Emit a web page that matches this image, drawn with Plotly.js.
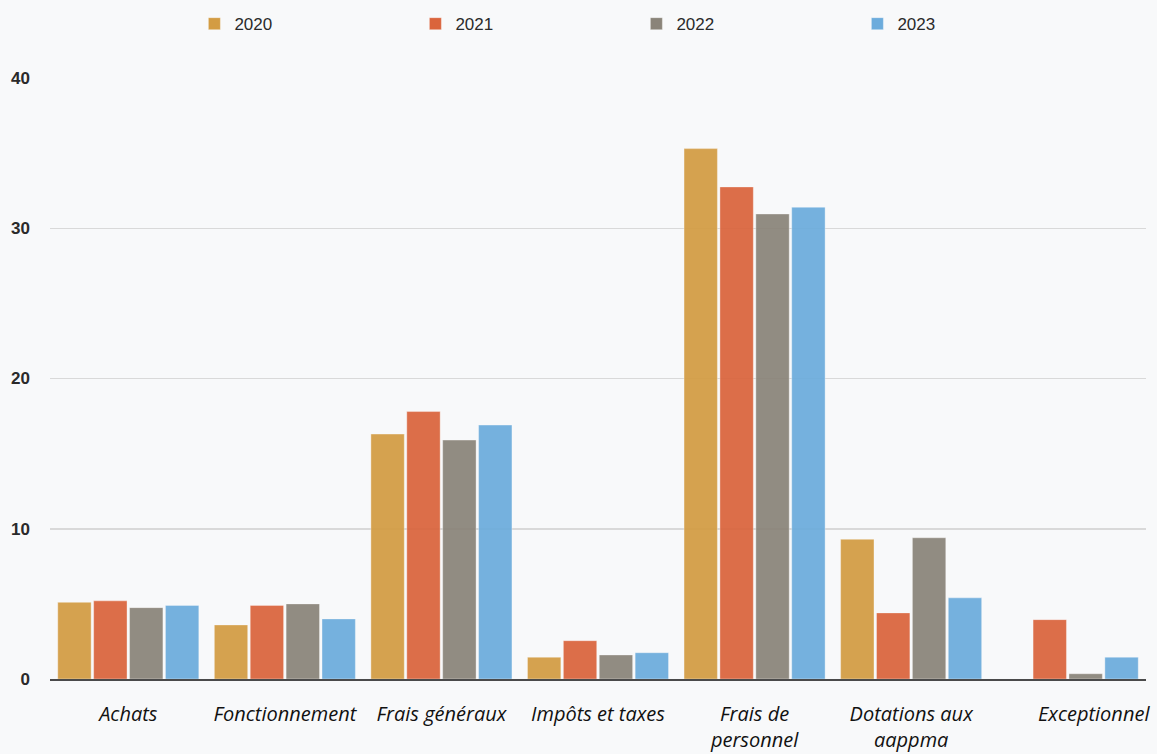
<!DOCTYPE html>
<html>
<head>
<meta charset="utf-8">
<script src="https://cdn.plot.ly/plotly-3.0.1.min.js"></script>
<style>
  html, body { margin: 0; padding: 0; background: #f8f9fa; }
  #chart { width: 1157px; height: 754px; }
</style>
</head>
<body>
<div id="chart"></div>
<script>
// Expense categories (tick labels, wrapped where needed)
const categories = ["Achats", "Fonctionnement", "Frais généraux", "Impôts et taxes",
                    "Frais de personnel", "Dotations aux aappma", "Exceptionnel"];
const tickLabels = ["Achats", "Fonctionnement", "Frais généraux", "Impôts et taxes",
                    "Frais de<br>personnel", "Dotations aux<br>aappma",
                    "\u00a0".repeat(10) + "Exceptionnel"];

// Yearly values per category
const years = ["2020", "2021", "2022", "2023"];
const values2020 = [5.1, 3.6, 16.3, 1.45, 35.3, 9.3, null];
const values2021 = [5.2, 4.9, 17.8, 2.55, 32.75, 4.4, 3.95];
const values2022 = [4.75, 5.0, 15.9, 1.6, 30.95, 9.4, 0.35];
const values2023 = [4.9, 4.0, 16.9, 1.75, 31.4, 5.4, 1.45];
const seriesValues = [values2020, values2021, values2022, values2023];
const colors = ["#d39c43", "#da643c", "#8a8479", "#6cacdc"];

const traces = years.map((yr, i) => ({
  type: "bar",
  name: yr,
  x: categories,
  y: seriesValues[i],
  marker: {
    color: colors[i],
    opacity: 0.93,
    line: { color: "rgba(255,255,255,0.35)", width: 1 }
  },
  hoverinfo: "x+y+name"
}));

const layout = {
  width: 1157,
  height: 754,
  paper_bgcolor: "#f8f9fa",
  plot_bgcolor: "#f8f9fa",
  margin: { l: 50, r: 11, t: 78, b: 75 },
  barmode: "group",
  bargap: 0.083,
  bargroupgap: 0.07,
  showlegend: true,
  legend: {
    orientation: "h",
    xref: "container",
    yref: "container",
    x: 0.168,
    xanchor: "left",
    y: 0.968,
    yanchor: "middle",
    entrywidth: 176,
    entrywidthmode: "pixels",
    font: { family: "Liberation Sans, Arial, sans-serif", size: 17, color: "#2a2a2a" },
    bgcolor: "rgba(0,0,0,0)",
    traceorder: "normal"
  },
  xaxis: {
    type: "category",
    tickmode: "array",
    tickvals: categories,
    ticktext: tickLabels,
    showgrid: false,
    showline: true,
    linecolor: "#4a4a4a",
    linewidth: 2,
    ticks: "",
    ticklabelstandoff: 16,
    tickfont: { family: "Open Sans, sans-serif", size: 20, color: "#111", style: "italic" },
    zeroline: false,
    fixedrange: true
  },
  yaxis: {
    range: [0, 40],
    tickmode: "linear",
    tick0: 0,
    dtick: 10,
    showgrid: true,
    gridcolor: "#d9d9d9",
    gridwidth: 1.5,
    zeroline: false,
    showline: false,
    ticks: "",
    ticklabelstandoff: 19,
    tickfont: { family: "Liberation Sans, Arial, sans-serif", size: 17, color: "#2a2a2a", weight: "bold" },
    fixedrange: true
  }
};

Plotly.newPlot("chart", traces, layout, { displayModeBar: false, staticPlot: true });
</script>
</body>
</html>
